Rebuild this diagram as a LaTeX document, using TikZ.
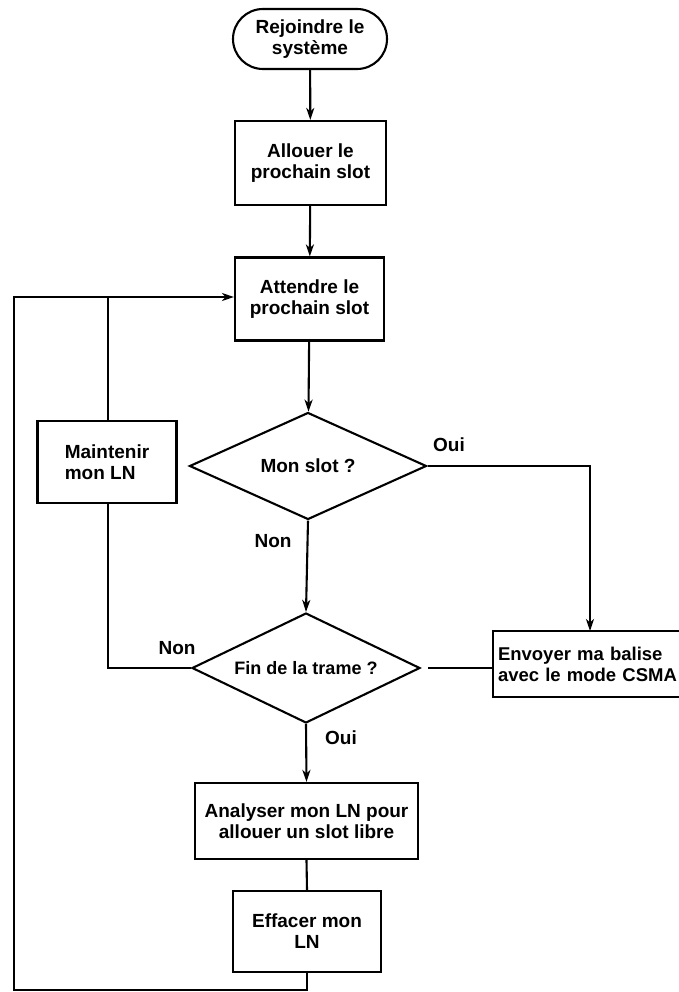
\documentclass[tikz,border=0pt]{standalone}
\usepackage{fontspec}
\setmainfont{Liberation Sans}
\usetikzlibrary{shapes.geometric,shapes.misc,arrows.meta}
\tikzset{
  txt/.style={font=\fontsize{19}{21}\selectfont\bfseries},
  boxnode/.style={txt, draw, line width=2.1pt, rectangle, align=center, inner sep=0pt},
  termnode/.style={txt, draw, line width=2.1pt, rounded rectangle, align=center, inner sep=0pt},
  decnode/.style={txt, draw, line width=2.1pt, diamond, align=center, inner sep=0pt},
  lbl/.style={txt, inner sep=0pt},
  conn/.style={line width=2.1pt},
  arr/.style={line width=2.1pt, -{Stealth[length=12pt,width=8pt,inset=3.5pt]}}
}
\begin{document}
\begin{tikzpicture}[x=1pt,y=-1pt]
\useasboundingbox (0,0) rectangle (679,992);
\fill[white] (0,0) rectangle (679,992);
\begin{scope}
\clip (0,0) rectangle (679,992);
\node[termnode, minimum width=154pt, minimum height=60pt] (start) at (310,39) {Rejoindre le\\système};
\node[boxnode, minimum width=151pt, minimum height=84pt] (alloc) at (310.5,163) {Allouer le\\prochain slot};
\node[boxnode, minimum width=149pt, minimum height=83pt] (wait) at (309.5,299) {Attendre le\\prochain slot};
\node[decnode, aspect=2.2, minimum width=237pt, minimum height=107pt] (d1) at (308,466) {Mon slot ?};
\node[boxnode, minimum width=139pt, minimum height=82pt, align=left] (maint) at (107,462) {Maintenir\\mon LN};
\node[decnode, aspect=2.07, minimum width=228pt, minimum height=110pt, font=\fontsize{18}{21}\selectfont\bfseries] (d2) at (306,668) {Fin de la trame ?};
\node[boxnode, minimum width=212pt, minimum height=66pt, text width=202pt, align=left, font=\fontsize{18.5}{21}\selectfont\bfseries] (envoy) at (599,664) {Envoyer ma balise\\avec le mode CSMA};
\node[boxnode, minimum width=223pt, minimum height=76pt] (analy) at (306.5,821) {Analyser mon LN pour\\allouer un slot libre};
\node[boxnode, minimum width=148pt, minimum height=81pt] (eff) at (307,931.5) {Effacer mon\\LN};

\node[lbl] (oui1) at (449,445) {Oui};
\node[lbl] (non1) at (273,541) {Non};
\node[lbl] (non2) at (177,648) {Non};
\node[lbl] (oui2) at (341,738) {Oui};

\coordinate (bl) at (14,990);
\coordinate (bm) at (307,990);
\coordinate (tl) at (14,297);
\coordinate (mx) at (108,668);
\coordinate (ea) at (590,631);

\draw[arr] (start) -- (alloc);
\draw[arr] (alloc) -- (wait);
\draw[arr] (wait) -- (d1);
\draw[arr] (d1.east) -| (ea);
\draw[arr] (d1.south) -- (d2.north);
\draw[conn, shorten >=7pt] (d2.east -| envoy.west) -- (d2.east);
\draw[conn] (d2.west) -- (mx) -- (mx |- maint.south);
\draw[conn] (maint.north -| mx) -- (mx |- tl);
\draw[arr] (d2.south) -- (analy.north);
\draw[conn] (analy.south) -- (eff.north);
\draw[arr] (eff.south) -- (bm) -- (bl) -- (tl) -- (tl -| wait.west);
\end{scope}
\end{tikzpicture}
\end{document}
